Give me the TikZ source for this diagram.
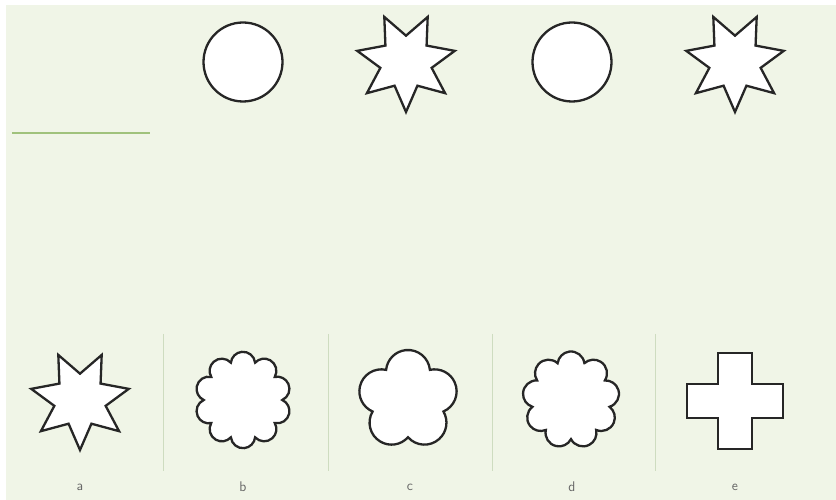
\documentclass[tikz,border=0pt]{standalone}
\usetikzlibrary{shapes.geometric,calc,positioning}
\definecolor{bgpale}{RGB}{240,245,231}
\definecolor{rulegreen}{RGB}{160,194,124}
\definecolor{sepgreen}{RGB}{206,220,192}
\definecolor{outline}{RGB}{38,38,38}

% scalloped outline: name, centre, lobes, lobe distance, lobe radius, first lobe angle
\newcommand{\flower}[6]{%
  \coordinate (#1) at (#2);
  \pgfmathsetmacro\fa{360/#3}
  \pgfmathsetmacro\ft{#4*cos(\fa/2)+sqrt(#5*#5-(#4*sin(\fa/2))^2)}
  \pgfmathsetmacro\fphi{atan2(\ft*sin(\fa/2),\ft*cos(\fa/2)-#4)}
  \pgfmathsetmacro\fs{#6-\fa/2}
  \pgfmathtruncatemacro\fn{#3-1}
  \draw[shapeline] ($(#1)+(\fs:\ft pt)$)
    \foreach \k in {0,...,\fn}{
      arc[start angle={#6+\k*\fa-\fphi}, end angle={#6+\k*\fa+\fphi}, radius=#5pt]
    } -- cycle;
}

\begin{document}
\begin{tikzpicture}[x=1pt, y=1pt,
    shapeline/.style={draw=outline, line width=2.3pt, fill=white, line join=miter},
    sevenstar/.style={shapeline, star, star points=7, star point ratio=1.9,
      minimum size=100pt, inner sep=0pt, shape border rotate=180},
    ring/.style={shapeline, circle, minimum size=79pt, inner sep=0pt},
    letter/.style={font=\fontsize{14}{16}\selectfont\sffamily, text=black!60}]
  \useasboundingbox (0,0) rectangle (836,500);
  \fill[bgpale] (6,0) rectangle (836,495);

  % top row
  \node[ring] (c1) at (243,438) {};
  \node[sevenstar] (s1) at (406,438) {};
  \node[ring] (c2) at (572,438) {};
  \node[sevenstar] (s2) at (735,438) {};
  \coordinate (rl) at (12,367);
  \coordinate (rr) at (150,367);
  \draw[rulegreen, line width=2.6pt] (rl) -- (rr);

  % answer choices
  \node[sevenstar] (sa) at (80,100) {};
  \flower{fb}{243,100}{10}{36}{12.2}{90}
  \flower{fc}{408,100}{5}{28}{22}{90}
  \flower{fd}{571,100}{9}{35}{13.5}{90}
  \coordinate (fe) at (735,99);
  \draw[shapeline] ($(fe)+(-17,48)$) -- ++(34,0) -- ++(0,-31) -- ++(31,0)
    -- ++(0,-34) -- ++(-31,0) -- ++(0,-31) -- ++(-34,0) -- ++(0,31)
    -- ++(-31,0) -- ++(0,34) -- ++(31,0) -- cycle;

  % separators
  \foreach \sx [count=\i] in {163,328,492,655}{
    \coordinate (st\i) at (\sx,166);
    \coordinate (sb\i) at (\sx,29);
    \draw[sepgreen, line width=0.9pt] (st\i) -- (sb\i);
  }

  % labels
  \node[letter] (la) at (80,13) {a};
  \node[letter] (lb) at (243,13) {b};
  \node[letter] (lc) at (410,13) {c};
  \node[letter] (ld) at (572,13) {d};
  \node[letter] (le) at (735,13) {e};
\end{tikzpicture}
\end{document}
